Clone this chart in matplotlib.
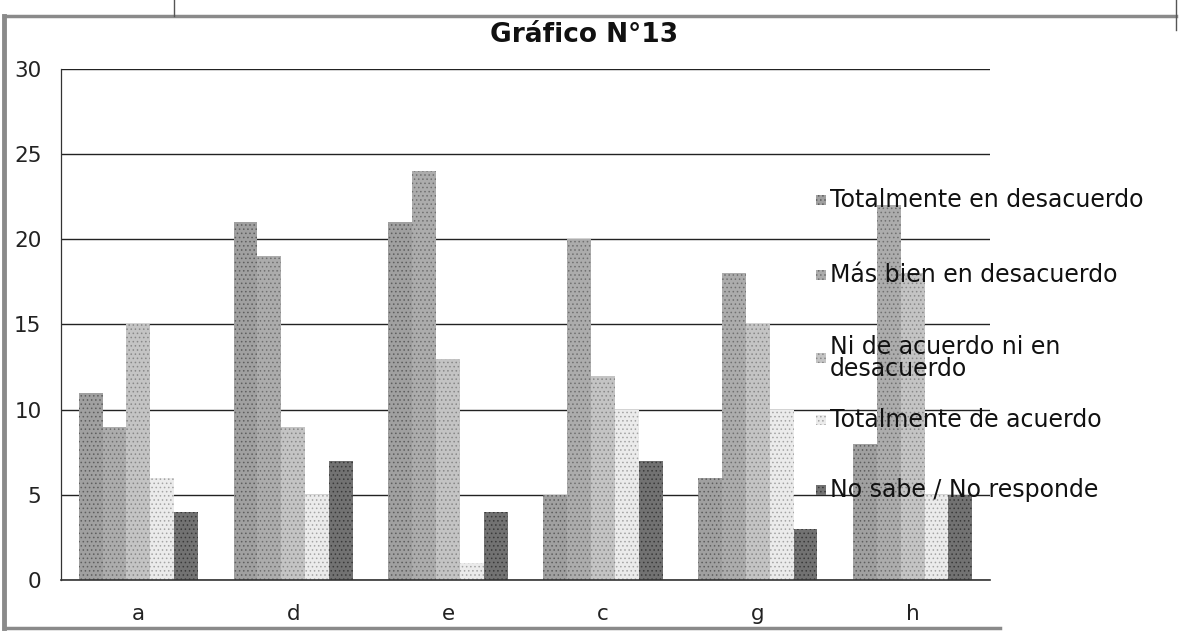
import matplotlib
matplotlib.use("Agg")
import matplotlib.pyplot as plt
import numpy as np
from matplotlib.lines import Line2D
from matplotlib.patches import Rectangle

categories = ["a", "d", "e", "c", "g", "h"]
series_names = [
    "Totalmente en desacuerdo",
    "Más bien en desacuerdo",
    "Ni de acuerdo ni en\ndesacuerdo",
    "Totalmente de acuerdo",
    "No sabe / No responde",
]
totalmente_desacuerdo = [11, 21, 21, 5, 6, 8]
mas_bien_desacuerdo = [9, 19, 24, 20, 18, 22]
ni_acuerdo_ni_desacuerdo = [15, 9, 13, 12, 15, 18]
totalmente_acuerdo = [6, 5, 1, 10, 10, 5]
no_sabe = [4, 7, 4, 7, 3, 5]
yticks = [0, 5, 10, 15, 20, 25, 30]
title = "Gráfico N°13"

series = [totalmente_desacuerdo, mas_bien_desacuerdo, ni_acuerdo_ni_desacuerdo,
          totalmente_acuerdo, no_sabe]
fills = ["#a0a0a0", "#acacac", "#c4c4c4", "#ebebeb", "#727272"]
dots = ["#5e5e5e", "#707070", "#888888", "#a4a4a4", "#3a3a3a"]

plt.rcParams["font.family"] = ["DejaVu Sans"]
plt.rcParams["hatch.linewidth"] = 0.6

W, H = 1185, 633
fig = plt.figure(figsize=(W / 100, H / 100), dpi=100)
ax = fig.add_axes([61 / W, 1 - 580 / H, (990 - 61) / W, (580 - 69) / H])

x = np.arange(len(categories))
bw = 0.154
for i, vals in enumerate(series):
    ax.bar(x + (i - 2) * bw, vals, width=bw, color=fills[i], edgecolor=dots[i],
           linewidth=0, hatch="....", zorder=2)

ax.set_xlim(-0.5, len(categories) - 0.5)
ax.set_ylim(0, 30)
ax.set_yticks(yticks)
ax.set_xticks(x)
ax.set_xticklabels(categories)
ax.tick_params(axis="both", length=0, labelsize=15.5, colors="#222222")
ax.tick_params(axis="y", pad=14)
ax.tick_params(axis="x", pad=17)
ax.yaxis.grid(True, color="#222222", linewidth=1.0, zorder=1)
ax.set_axisbelow(True)
for s in ["top", "right"]:
    ax.spines[s].set_visible(False)
ax.spines["left"].set_color("#333333")
ax.spines["bottom"].set_color("#333333")
ax.spines["left"].set_linewidth(0.9)
ax.spines["bottom"].set_linewidth(1.2)

fig.text(584 / W, 1 - 35 / H, title, ha="center", va="center",
         fontsize=19, fontweight="bold", color="#111111")

# legend, drawn manually at the reference's uneven spacing
leg_y = [200, 275, 358, 420, 490]
for i, name in enumerate(series_names):
    yc = 1 - leg_y[i] / H
    fig.patches.append(Rectangle((816 / W, yc - 5 / H), 10 / W, 10 / H,
                                 transform=fig.transFigure, facecolor=fills[i],
                                 edgecolor=dots[i], linewidth=0, hatch="...."))
    fig.text(830 / W, yc, name, ha="left", va="center", fontsize=17,
             color="#111111", linespacing=0.85)

# scanned page frame
frame = "#8a8a8a"
fig.add_artist(Line2D([4 / W, 4 / W], [1 - 16 / H, 1 - 628 / H], color=frame,
                      lw=3.5, transform=fig.transFigure))
fig.add_artist(Line2D([4 / W, 1176 / W], [1 - 16 / H, 1 - 16 / H], color=frame,
                      lw=2.5, transform=fig.transFigure))
fig.add_artist(Line2D([4 / W, 1000 / W], [1 - 628 / H, 1 - 628 / H], color=frame,
                      lw=2.5, transform=fig.transFigure))
fig.add_artist(Line2D([174 / W, 174 / W], [1.0, 1 - 16 / H], color="#555555",
                      lw=1, transform=fig.transFigure))
fig.add_artist(Line2D([1176 / W, 1176 / W], [1.0, 1 - 30 / H], color="#555555",
                      lw=1, transform=fig.transFigure))

fig.savefig("out.png", dpi=100)
